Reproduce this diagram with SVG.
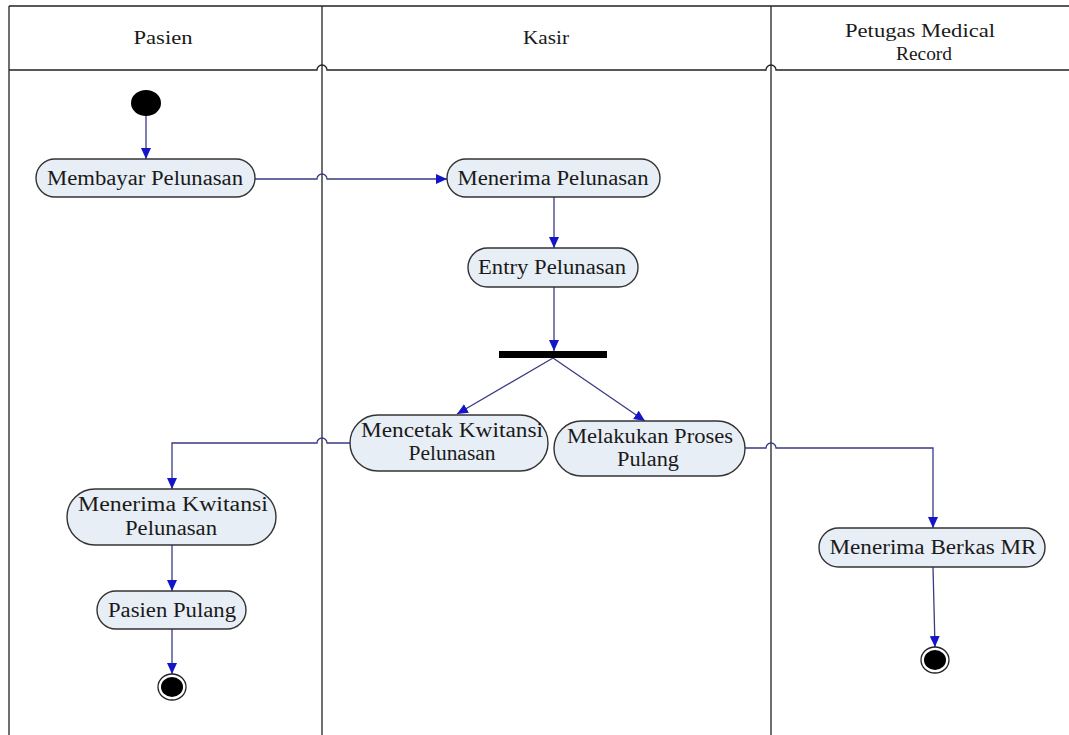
<svg xmlns="http://www.w3.org/2000/svg" width="1069" height="735" viewBox="0 0 1069 735">
<style>
.lane{fill:none;stroke:#222;stroke-width:1.3}
.node{fill:#e8eef5;stroke:#333;stroke-width:1.4}
.t{font-family:"Liberation Serif","Times New Roman",serif;font-size:20px;fill:#1a1a1a;text-anchor:middle}
.h{font-family:"Liberation Serif","Times New Roman",serif;font-size:19px;fill:#1a1a1a;text-anchor:middle}
.c{fill:none;stroke:#3a3a85;stroke-width:1.3}
.dot{fill:#000}
</style>
<defs>
<marker id="arr" markerUnits="userSpaceOnUse" markerWidth="12" markerHeight="12" refX="11" refY="6" orient="auto">
<path d="M0,1 L11,6 L0,11 z" fill="#1515c8"/>
</marker>
</defs>
<rect width="1069" height="735" fill="#fff"/>
<g id="swimlanes">
<path class="lane" d="M9,6 H1069"/>
<path class="lane" d="M9,70 H317 A5,5 0 0 1 327,70 H766 A5,5 0 0 1 776,70 H1069"/>
<path class="lane" d="M9,6 V735"/>
<path class="lane" d="M322,6 V735"/>
<path class="lane" d="M771,6 V735"/>
<text class="h" x="163" y="44" textLength="59" lengthAdjust="spacingAndGlyphs">Pasien</text>
<text class="h" x="546" y="44" textLength="46" lengthAdjust="spacingAndGlyphs">Kasir</text>
<text class="h" x="920" y="37" textLength="150" lengthAdjust="spacingAndGlyphs">Petugas Medical</text>
<text class="h" x="924" y="60" textLength="56" lengthAdjust="spacingAndGlyphs">Record</text>
</g>
<g id="connectors">
<path class="c" d="M146,116 V159" marker-end="url(#arr)"/>
<path class="c" d="M255,179 H317 A5,5 0 0 1 327,179 H447" marker-end="url(#arr)"/>
<path class="c" d="M554,197 V248" marker-end="url(#arr)"/>
<path class="c" d="M554,287 V351" marker-end="url(#arr)"/>
<path class="c" d="M553,358 L457,414" marker-end="url(#arr)"/>
<path class="c" d="M553,358 L645,421" marker-end="url(#arr)"/>
<path class="c" d="M350,443 H327 A5,5 0 0 0 317,443 H172 V489" marker-end="url(#arr)"/>
<path class="c" d="M172,545 V591" marker-end="url(#arr)"/>
<path class="c" d="M172,629 V674" marker-end="url(#arr)"/>
<path class="c" d="M745,448 H766 A5,5 0 0 1 776,448 H933 V528" marker-end="url(#arr)"/>
<path class="c" d="M933,567 L935,647" marker-end="url(#arr)"/>
</g>
<g id="start">
<ellipse class="dot" cx="146" cy="103" rx="15" ry="13"/>
</g>
<g id="membayar-pelunasan">
<rect class="node" x="36" y="159" width="219" height="38" rx="19"/>
<text class="t" x="145" y="185" textLength="196" lengthAdjust="spacingAndGlyphs">Membayar Pelunasan</text>
</g>
<g id="menerima-pelunasan">
<rect class="node" x="447" y="159" width="213" height="38" rx="19"/>
<text class="t" x="553" y="185" textLength="191" lengthAdjust="spacingAndGlyphs">Menerima Pelunasan</text>
</g>
<g id="entry-pelunasan">
<rect class="node" x="468" y="248" width="170" height="39" rx="19.5"/>
<text class="t" x="552" y="274" textLength="148" lengthAdjust="spacingAndGlyphs">Entry Pelunasan</text>
</g>
<g id="fork">
<rect x="499" y="351" width="108" height="7" fill="#000"/>
</g>
<g id="mencetak-kwitansi">
<rect class="node" x="350" y="415" width="198" height="56" rx="28"/>
<text class="t" x="452" y="437" textLength="182" lengthAdjust="spacingAndGlyphs">Mencetak Kwitansi</text>
<text class="t" x="452" y="460" textLength="87" lengthAdjust="spacingAndGlyphs">Pelunasan</text>
</g>
<g id="melakukan-proses-pulang">
<rect class="node" x="554" y="421" width="191" height="55" rx="27.5"/>
<text class="t" x="650" y="443" textLength="166" lengthAdjust="spacingAndGlyphs">Melakukan Proses</text>
<text class="t" x="648" y="466" textLength="62" lengthAdjust="spacingAndGlyphs">Pulang</text>
</g>
<g id="menerima-kwitansi">
<rect class="node" x="67" y="489" width="209" height="56" rx="28"/>
<text class="t" x="173" y="511" textLength="190" lengthAdjust="spacingAndGlyphs">Menerima Kwitansi</text>
<text class="t" x="171" y="535" textLength="92" lengthAdjust="spacingAndGlyphs">Pelunasan</text>
</g>
<g id="pasien-pulang">
<rect class="node" x="97" y="591" width="149" height="38" rx="19"/>
<text class="t" x="172" y="617" textLength="128" lengthAdjust="spacingAndGlyphs">Pasien Pulang</text>
</g>
<g id="menerima-berkas-mr">
<rect class="node" x="819" y="528" width="226" height="39" rx="19.5"/>
<text class="t" x="933" y="554" textLength="207" lengthAdjust="spacingAndGlyphs">Menerima Berkas MR</text>
</g>
<g id="end-pasien">
<ellipse cx="172" cy="687" rx="14" ry="13" fill="#fff" stroke="#222" stroke-width="1.3"/>
<ellipse class="dot" cx="172" cy="687" rx="11" ry="10"/>
</g>
<g id="end-mr">
<ellipse cx="935" cy="660" rx="14" ry="13" fill="#fff" stroke="#222" stroke-width="1.3"/>
<ellipse class="dot" cx="935" cy="660" rx="11" ry="10"/>
</g>
</svg>
